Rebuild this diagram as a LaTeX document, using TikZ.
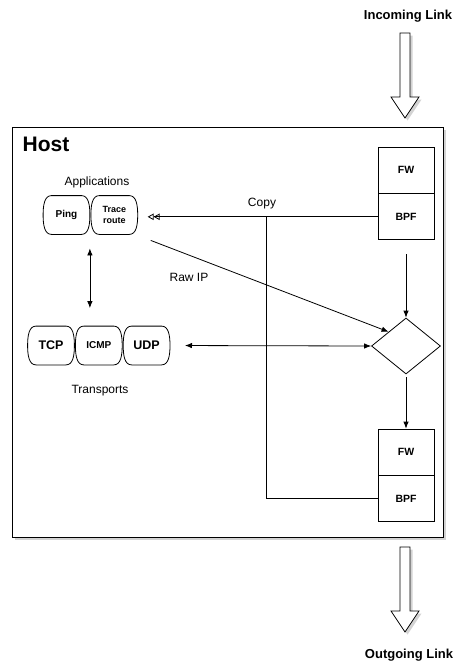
\documentclass[tikz,border=0pt]{standalone}
\usepackage{fontspec}
\setmainfont{Liberation Sans}
\usetikzlibrary{arrows.meta,positioning,shapes.geometric,shadows}

\begin{document}
\begin{tikzpicture}[x=1pt,y=-1pt,line width=.8pt,>={Latex[length=7pt,width=5.5pt]},
  lbl/.style={font=\fontsize{12}{14}\selectfont,anchor=base},
  proto/.style={minimum width=46pt,minimum height=38pt,inner sep=0pt,align=center,font=\bfseries\fontsize{12.5}{14}\selectfont,
    append after command={\pgfextra{\draw ([xshift=-15pt]\tikzlastnode.north) -- ([xshift=15pt]\tikzlastnode.north)
      .. controls ([xshift=22pt]\tikzlastnode.north) and ([yshift=10pt]\tikzlastnode.east) .. (\tikzlastnode.east)
      .. controls ([yshift=-10pt]\tikzlastnode.east) and ([xshift=22pt]\tikzlastnode.south) .. ([xshift=15pt]\tikzlastnode.south)
      -- ([xshift=-15pt]\tikzlastnode.south)
      .. controls ([xshift=-22pt]\tikzlastnode.south) and ([yshift=-10pt]\tikzlastnode.west) .. (\tikzlastnode.west)
      .. controls ([yshift=10pt]\tikzlastnode.west) and ([xshift=-22pt]\tikzlastnode.north) .. cycle;}}},
  filt/.style={draw,minimum width=56pt,minimum height=46pt,inner sep=0pt,font=\bfseries\fontsize{10.5}{12}\selectfont},
  link/.style={font=\bfseries\fontsize{13}{15}\selectfont,anchor=base},
  shade/.style={drop shadow={shadow xshift=2.5pt,shadow yshift=-2.5pt,opacity=.35}},
  blockarrow/.style={draw,fill=white,shade}]
\useasboundingbox (0,0) rectangle (456,662);
\node[draw,fill=white,shade,minimum width=431pt,minimum height=410pt] (host) at (227.5,332) {};
\node[font=\bfseries\fontsize{21}{24}\selectfont] (hostlbl) at (46,144) {Host};
\node[link] (inlbl) at (408,19) {Incoming Link};\node[link] (outlbl) at (409,658) {Outgoing Link};
\foreach \t in {33,547} \draw[blockarrow] (400,\t)--(410,\t)--(410,\t+64)--(419,\t+64)--(405,\t+85)--(391,\t+64)--(400,\t+64)--cycle;
\node[proto,font=\bfseries\fontsize{10}{12}\selectfont] (ping) at (66.5,215) {Ping};
\node[proto,right=1pt of ping,font=\bfseries\fontsize{9}{11}\selectfont] (trace) {Trace\\route};
\node[lbl] (apps) at (97,185) {Applications};
\node[proto] (tcp) at (51,345.5) {TCP};
\node[proto,right=1pt of tcp,font=\bfseries\fontsize{10}{12}\selectfont] (icmp) {ICMP};
\node[proto,right=1pt of icmp] (udp) {UDP};
\node[lbl] (trans) at (100,393.5) {Transports};
\node[filt] (fwin) at (406,170) {FW};\node[filt,below=0pt of fwin] (bpfin) {BPF};
\node[draw,diamond,minimum width=69pt,minimum height=56pt,inner sep=0pt] (sw) at (406,346) {};
\node[filt] (fwout) at (406,452) {FW};\node[filt,below=0pt of fwout] (bpfout) {BPF};
\node[lbl] (copy) at (262,206) {Copy};\node[lbl] (rawip) at (189,281) {Raw IP};
\coordinate (tap) at (266,216);
\draw[-{Triangle[open,length=6pt,width=6.5pt]Triangle[open,length=6pt,width=6.5pt]},shorten >=10pt] (bpfin.west) -- (bpfin.west -| trace.east);
\draw (bpfout.west) -| (tap);
\draw[->,shorten <=14pt] (bpfin.south) -- (sw.north);\draw[->,shorten <=3pt] (sw.south) -- (fwout.north);
\draw[->] ([shift={(13pt,-6pt)}]trace.south east) -- (sw.north west);
\draw[<->,shorten <=15pt] (udp.east) -- (sw.west);
\draw[<->,shorten <=14pt,shorten >=18pt] (ping.south east) -- (ping.south east |- tcp.north);
\end{tikzpicture}
\end{document}
